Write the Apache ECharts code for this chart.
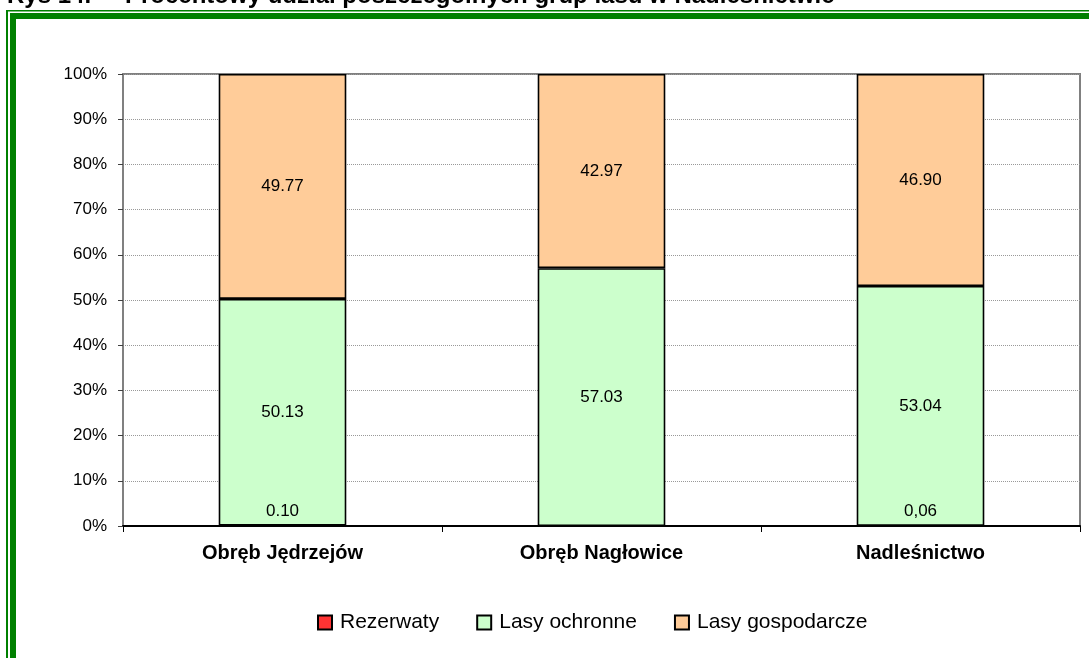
<!DOCTYPE html>
<html>
<head>
<meta charset="utf-8">
<script src="https://cdn.jsdelivr.net/npm/echarts@6/dist/echarts.min.js"></script>
<style>
  html, body { margin: 0; padding: 0; background: #fff; }
  #main { width: 1089px; height: 658px; }
</style>
</head>
<body>
<div id="main"></div>
<script>
// dane wykresu
const categories = ['Obręb Jędrzejów', 'Obręb Nagłowice', 'Nadleśnictwo']
const rezerwaty = [0.10, 0, 0.06]
const rezerwatyLabels = ['0.10', '', '0,06'] // tak jak w oryginale (kropka / przecinek)
const lasyOchronne = [50.13, 57.03, 53.04]
const lasyGospodarcze = [49.77, 42.97, 46.90]
const yTicks = [0, 10, 20, 30, 40, 50, 60, 70, 80, 90, 100]

const FONT = 'Liberation Sans, Arial, sans-serif'
const myChart = echarts.init(document.getElementById('main'))

const barBorder = { borderColor: '#000', borderWidth: 1.6 }

const option = {
  animation: false,
  backgroundColor: '#fff',
  textStyle: { fontFamily: FONT, color: '#000' },
  grid: {
    left: 123,
    right: 9,
    top: 74,
    bottom: 132,
    show: true,
    borderColor: '#808080',
    borderWidth: 2
  },
  legend: {
    left: 312,
    top: 607,
    icon: 'rect',
    itemWidth: 14,
    itemHeight: 14,
    itemGap: 37,
    itemStyle: { borderWidth: 2 },
    textStyle: { fontSize: 21, fontFamily: FONT, color: '#000', padding: [0, 0, 0, 3] },
    data: ['Rezerwaty', 'Lasy ochronne', 'Lasy gospodarcze']
  },
  // obramowanie ramki i ucięty tytuł
  graphic: [
    { type: 'rect', shape: { x: 6, y: 10, width: 1083, height: 1.5 }, style: { fill: '#008000' } },
    { type: 'rect', shape: { x: 10, y: 13, width: 1079, height: 6 }, style: { fill: '#008000' } },
    { type: 'rect', shape: { x: 6, y: 10, width: 2, height: 648 }, style: { fill: '#008000' } },
    { type: 'rect', shape: { x: 10, y: 13, width: 6, height: 645 }, style: { fill: '#008000' } },
    {
      type: 'text', x: 7, y: -4,
      style: { text: 'Rys 14.', font: 'bold 24px ' + FONT, fill: '#000', verticalAlign: 'middle' }
    },
    {
      type: 'text', x: 125, y: -4,
      style: { text: 'Procentowy udział poszczególnych grup lasu w Nadleśnictwie', font: 'bold 24px ' + FONT, fill: '#000', verticalAlign: 'middle' }
    }
  ],
  xAxis: {
    type: 'category',
    data: categories,
    axisLine: { lineStyle: { color: '#000', width: 2 } },
    axisTick: { show: true, length: 6, lineStyle: { color: '#000', width: 1 } },
    axisLabel: { fontSize: 20, fontWeight: 'bold', color: '#000', margin: 17, fontFamily: FONT }
  },
  yAxis: {
    type: 'value',
    min: yTicks[0],
    max: yTicks[yTicks.length - 1],
    interval: 10,
    axisLine: { show: true, lineStyle: { color: '#808080', width: 2 } },
    axisTick: { show: true, length: 5, lineStyle: { color: '#404040' } },
    axisLabel: { fontSize: 17, color: '#000', margin: 16, fontFamily: FONT, formatter: '{value}%' },
    splitLine: { lineStyle: { type: 'dotted', color: '#999', width: 1 } }
  },
  series: [
    {
      name: 'Rezerwaty',
      type: 'bar',
      stack: 'all',
      barWidth: '40%',
      data: rezerwaty,
      itemStyle: Object.assign({ color: '#ff3333' }, barBorder),
      label: {
        show: true,
        position: 'top',
        distance: 5,
        fontSize: 17,
        color: '#000',
        fontFamily: FONT,
        formatter: p => rezerwatyLabels[p.dataIndex]
      }
    },
    {
      name: 'Lasy ochronne',
      type: 'bar',
      stack: 'all',
      data: lasyOchronne,
      itemStyle: Object.assign({ color: '#ccffcc' }, barBorder),
      label: { show: true, position: 'inside', fontSize: 17, color: '#000', fontFamily: FONT, formatter: p => p.value.toFixed(2) }
    },
    {
      name: 'Lasy gospodarcze',
      type: 'bar',
      stack: 'all',
      data: lasyGospodarcze,
      itemStyle: Object.assign({ color: '#ffcc99' }, barBorder),
      label: { show: true, position: 'inside', fontSize: 17, color: '#000', fontFamily: FONT, formatter: p => p.value.toFixed(2) }
    }
  ]
}

myChart.setOption(option)
window.onresize = () => myChart.resize()
</script>
</body>
</html>
